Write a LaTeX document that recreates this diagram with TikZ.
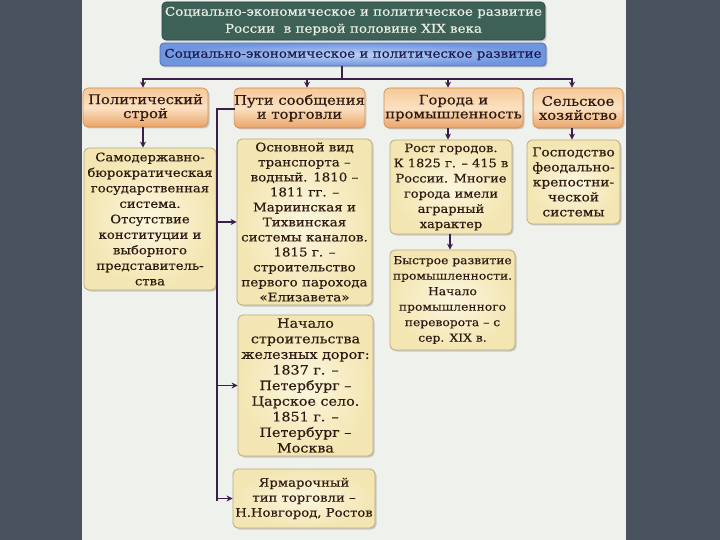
\documentclass[tikz,border=0pt]{standalone}
\usepackage{fontspec}
\setmainfont{DejaVu Serif}[FakeStretch=1.12,FakeBold=0.4]
\usetikzlibrary{shadows,arrows.meta}
\definecolor{bgdark}{HTML}{4A515E}
\definecolor{panelc}{HTML}{EEF1EC}
\definecolor{titlec}{HTML}{3E6157}
\definecolor{titletext}{HTML}{EDEFE5}
\definecolor{subout}{HTML}{6F95DF}
\definecolor{subin}{HTML}{BCD0F3}
\definecolor{subborder}{HTML}{4E6FB8}
\definecolor{subtext}{HTML}{1A1A50}
\definecolor{hdtop}{HTML}{F6C898}
\definecolor{hdmid}{HTML}{FBE1C2}
\definecolor{hdbot}{HTML}{E9A468}
\definecolor{hdborder}{HTML}{D08A4A}
\definecolor{boxout}{HTML}{F3E6B2}
\definecolor{boxin}{HTML}{FBF6DE}
\definecolor{boxborder}{HTML}{BBA97E}
\definecolor{txt}{HTML}{2E1A10}
\definecolor{connc}{HTML}{3B1E4A}
\tikzset{
  titlebox/.style={rounded corners=4pt, fill=titlec, draw=titlec!70!black, line width=0.6pt,
    drop shadow={shadow xshift=1.5pt, shadow yshift=-1.5pt, opacity=0.35},
    text=titletext, align=center, inner sep=0pt,
    font=\fontsize{12}{17}\selectfont},
  subbox/.style={rounded corners=4pt, inner color=subin, outer color=subout, draw=subborder, line width=0.8pt,
    drop shadow={shadow xshift=1.5pt, shadow yshift=-1.5pt, opacity=0.35},
    text=subtext, align=center, inner sep=0pt,
    font=\fontsize{12}{14}\selectfont},
  hdbox/.style={rounded corners=5pt, top color=hdtop, bottom color=hdbot, middle color=hdmid,
    draw=hdborder, line width=0.6pt,
    drop shadow={shadow xshift=1.5pt, shadow yshift=-1.5pt, opacity=0.35},
    text=txt, align=center, inner sep=0pt,
    font=\fontsize{13.2}{14}\selectfont},
  cbox/.style={rounded corners=5pt, inner color=boxin, outer color=boxout,
    draw=boxborder, line width=0.8pt,
    drop shadow={shadow xshift=1.5pt, shadow yshift=-1.5pt, opacity=0.35},
    text=txt, align=center, inner sep=0pt},
  conn/.style={draw=connc, line width=1.8pt},
  arr/.style={conn, -{Stealth[length=6pt,width=6pt]}}
}
\begin{document}
\begin{tikzpicture}[x=1pt,y=-1pt]
\useasboundingbox (0,0) rectangle (720,540);
\fill[bgdark] (0,0) rectangle (720,540);
\fill[panelc] (82,0) rectangle (626,540);

% title & subtitle
\node[titlebox, minimum width=383pt, minimum height=38pt] (title) at (353.5,21)
  {Социально-экономическое и политическое развитие\\России \ в первой половине XIX века};
\node[subbox, minimum width=386pt, minimum height=23pt] (sub) at (353,54.5)
  {Социально-экономическое и политическое развитие};

% headers
\node[hdbox, minimum width=125pt, minimum height=39pt] (pol) at (145.5,107.5) {Политический\\строй};
\node[hdbox, minimum width=125pt, minimum height=40pt] (puti) at (299.5,108) {Пути сообщения\\и торговли};
\node[hdbox, minimum width=139pt, minimum height=40pt] (gor) at (453.5,108) {Города и\\промышленность};
\node[hdbox, minimum width=90pt, minimum height=40pt] (sel) at (578,108) {Сельское\\хозяйство};

% content boxes
\node[cbox, minimum width=132pt, minimum height=142pt, font=\fontsize{11.8}{15.5}\selectfont] (samo) at (150,219)
  {Самодержавно-\\бюрократическая\\государственная\\система.\\Отсутствие\\конституции и\\выборного\\представитель-\\ства};
\node[cbox, minimum width=135pt, minimum height=166pt, font=\fontsize{12}{15}\selectfont] (osn) at (304.5,222)
  {Основной вид\\транспорта –\\водный. 1810 –\\1811 гг. –\\Мариинская и\\Тихвинская\\системы каналов.\\1815 г. –\\строительство\\первого парохода\\«Елизавета»};
\node[cbox, minimum width=135pt, minimum height=141pt, font=\fontsize{12.8}{15.6}\selectfont] (nach) at (305.5,385.5)
  {Начало\\строительства\\железных дорог:\\1837 г. –\\Петербург –\\Царское село.\\1851 г. –\\Петербург –\\Москва};
\node[cbox, minimum width=142pt, minimum height=59pt, font=\fontsize{11.8}{15}\selectfont] (yarm) at (304,498.5)
  {Ярмарочный\\тип торговли –\\Н.Новгород, Ростов};
\node[cbox, minimum width=122pt, minimum height=94pt, font=\fontsize{11.6}{15.2}\selectfont] (rost) at (451,187)
  {Рост городов.\\К 1825 г. – 415 в\\России. Многие\\города имели\\аграрный\\характер};
\node[cbox, minimum width=125pt, minimum height=100pt, font=\fontsize{11}{15.5}\selectfont] (bys) at (452.5,300)
  {Быстрое развитие\\промышленности.\\Начало\\промышленного\\переворота – с\\сер. XIX в.};
\node[cbox, minimum width=93pt, minimum height=84pt, font=\fontsize{12.3}{15}\selectfont] (gos) at (573.5,182)
  {Господство\\феодально-\\крепостни-\\ческой\\системы};

% hub connectors
\coordinate (hubM) at (342,79);
\coordinate (hubA) at (143,79);
\coordinate (hubB) at (307,79);
\coordinate (hubC) at (448,79);
\coordinate (hubD) at (572,79);
\draw[conn] (sub.south -| hubM) -- (hubM);
\draw[conn, line cap=rect] (hubA) -- (hubD);
\draw[arr] (hubA) -- (hubA |- pol.north);
\draw[arr] (hubB) -- (hubB |- puti.north);
\draw[arr] (hubC) -- (hubC |- gor.north);
\draw[arr] (hubD) -- (hubD |- sel.north);

% vertical arrows
\draw[arr] (pol.south -| hubA) -- (samo.north -| hubA);
\draw[arr] (gor.south -| hubC) -- (rost.north -| hubC);
\draw[arr] (sel.south -| hubD) -- (gos.north -| hubD);
\draw[arr] (rost.south -| 450,0) -- (bys.north -| 450,0);

% left spine from "Пути сообщения"
\coordinate (spT) at (217,109);
\coordinate (spB) at (217,500);
\draw[conn, line cap=rect] (puti.west |- spT) -- (spT) -- (spB);
\draw[arr] (spB |- osn.west) -- (osn.west);
\draw[arr] (spB |- nach.west) -- (nach.west);
\draw[arr] (spB |- yarm.west) -- (yarm.west);
\end{tikzpicture}
\end{document}
